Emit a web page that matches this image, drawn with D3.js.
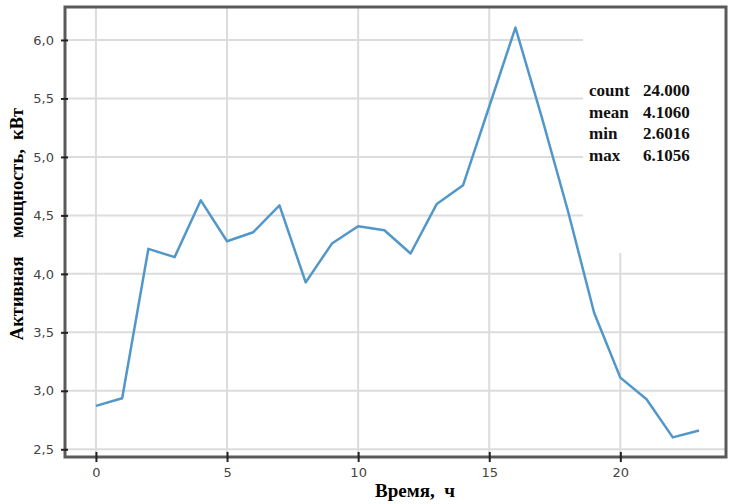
<!DOCTYPE html>
<html>
<head>
<meta charset="utf-8">
<script src="https://cdn.jsdelivr.net/npm/d3@7"></script>
<style>
  body { margin: 0; background: #fff; }
  svg { display: block; }
</style>
</head>
<body>
<div id="chart"></div>
<script>
// hourly active power, kW
const hours = d3.range(0, 24);
const power = [2.871, 2.937, 4.214, 4.143, 4.629, 4.279, 4.356, 4.586, 3.927, 4.259, 4.407, 4.373,
               4.174, 4.598, 4.757, 5.431, 6.1056, 5.343, 4.54, 3.668, 3.113, 2.928, 2.6016, 2.66];
const xTicks = [0, 5, 10, 15, 20];
const yTicks = [2.5, 3.0, 3.5, 4.0, 4.5, 5.0, 5.5, 6.0];
const statNames = ["count", "mean", "min", "max"];
const statValues = ["24.000", "4.1060", "2.6016", "6.1056"];

const width = 730, height = 504;
const plotL = 65, plotT = 7, plotR = 726, plotB = 457;

const svg = d3.select("#chart").append("svg")
  .attr("width", width)
  .attr("height", height);

const x = d3.scaleLinear().domain([-1.18, 24.03]).range([plotL, plotR]);
const y = d3.scaleLinear().domain([2.434, 6.282]).range([plotB, plotT]);

//grid
svg.append("g")
  .selectAll("line")
  .data(xTicks)
  .join("line")
  .attr("x1", d => x(d)).attr("x2", d => x(d))
  .attr("y1", plotT).attr("y2", plotB)
  .attr("stroke", "#dcdcdc").attr("stroke-width", 2);

svg.append("g")
  .selectAll("line")
  .data(yTicks)
  .join("line")
  .attr("x1", plotL).attr("x2", plotR)
  .attr("y1", d => y(d)).attr("y2", d => y(d))
  .attr("stroke", "#dcdcdc").attr("stroke-width", 2);

//white box behind the stats (covers grid)
svg.append("rect")
  .attr("x", 583).attr("y", plotT)
  .attr("width", plotR - 583).attr("height", 253 - plotT)
  .attr("fill", "#fff");

//the line
const line = d3.line().x((d, i) => x(hours[i])).y(d => y(d));
svg.append("path")
  .datum(power)
  .attr("d", line)
  .attr("fill", "none")
  .attr("stroke", "#5197c9")
  .attr("stroke-width", 2.5)
  .attr("stroke-linejoin", "round");

//frame
svg.append("rect")
  .attr("x", plotL).attr("y", plotT)
  .attr("width", plotR - plotL).attr("height", plotB - plotT)
  .attr("fill", "none")
  .attr("stroke", "#5a5a5a")
  .attr("stroke-width", 3);

//axes
const fmt = d => d3.format(".1f")(d).replace(".", ",");

const yAxis = svg.append("g")
  .attr("transform", `translate(${plotL},0)`)
  .call(d3.axisLeft(y).tickValues(yTicks).tickFormat(fmt).tickSizeInner(4).tickSizeOuter(0).tickPadding(7));
yAxis.select(".domain").remove();
yAxis.selectAll(".tick line").attr("x2", -4).attr("x1", 3).attr("stroke", "#222").attr("stroke-width", 2);
yAxis.selectAll(".tick text")
  .attr("font-family", "'DejaVu Sans', Verdana, sans-serif")
  .attr("font-size", 13)
  .attr("fill", "#444");

const xAxis = svg.append("g")
  .attr("transform", `translate(0,${plotB})`)
  .call(d3.axisBottom(x).tickValues(xTicks).tickSizeInner(5).tickSizeOuter(0).tickPadding(6));
xAxis.select(".domain").remove();
xAxis.selectAll(".tick line").attr("y1", -5).attr("y2", 5).attr("stroke", "#222").attr("stroke-width", 2);
xAxis.selectAll(".tick text")
  .attr("font-family", "'DejaVu Sans', Verdana, sans-serif")
  .attr("font-size", 13)
  .attr("fill", "#444");

//axis titles
svg.append("text")
  .attr("x", 415).attr("y", 497)
  .attr("text-anchor", "middle")
  .attr("font-family", "'Liberation Serif', 'Times New Roman', serif")
  .attr("font-weight", "bold")
  .attr("font-size", 19)
  .style("white-space", "pre")
  .text("Время,  ч");

svg.append("text")
  .attr("transform", "translate(23,224) rotate(-90)")
  .attr("text-anchor", "middle")
  .attr("font-family", "'Liberation Serif', 'Times New Roman', serif")
  .attr("font-weight", "bold")
  .attr("font-size", 18.5)
  .style("white-space", "pre")
  .text("Активная    мощность,  кВт");

//stats
const stats = svg.append("g")
  .attr("font-family", "'Liberation Serif', 'Times New Roman', serif")
  .attr("font-weight", "bold")
  .attr("font-size", 17)
  .attr("fill", "#111");

stats.selectAll(".name")
  .data(statNames)
  .join("text")
  .attr("x", 589)
  .attr("y", (d, i) => 96 + i * 21.5)
  .text(d => d);

stats.selectAll(".val")
  .data(statValues)
  .join("text")
  .attr("x", 643)
  .attr("y", (d, i) => 96 + i * 21.5)
  .text(d => d);
</script>
</body>
</html>
